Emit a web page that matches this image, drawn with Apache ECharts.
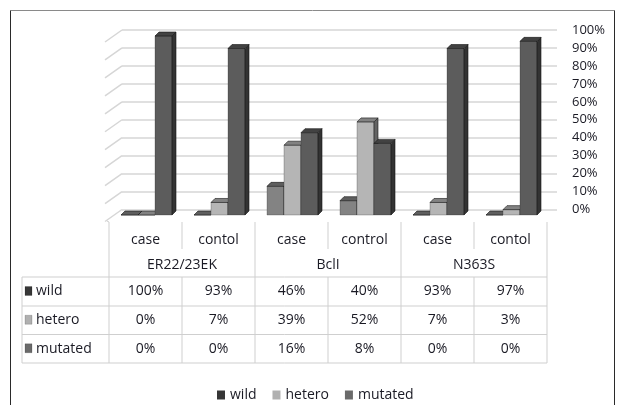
<!DOCTYPE html>
<html>
<head>
<meta charset="utf-8">
<script src="https://cdn.jsdelivr.net/npm/echarts@6/dist/echarts.min.js"></script>
<style>
  html, body { margin: 0; padding: 0; background: #fff; }
  #chart { width: 620px; height: 405px; }
</style>
</head>
<body>
<div id="chart"></div>
<script>
// Genotype distribution per polymorphism (case vs control)
const subLabels   = ['case', 'contol', 'case', 'control', 'case', 'contol'];
const groupLabels = ['ER22/23EK', 'BclI', 'N363S'];
const wild    = [100, 93, 46, 40, 93, 97];
const hetero  = [0, 7, 39, 52, 7, 3];
const mutated = [0, 0, 16, 8, 0, 0];
const yTickLabels = ['0%', '10%', '20%', '30%', '40%', '50%', '60%', '70%', '80%', '90%', '100%'];

const FONT = '"Open Sans", "Liberation Sans", Arial, sans-serif';
const TEXT = '#1a1a24';
const barColors    = { wild: '#5c5c5c', hetero: '#b5b5b5', mutated: '#838383' };
const legendColors = { wild: '#363636', hetero: '#b0b0b0', mutated: '#6a6a6a' };

// bar geometry (pseudo-3D)
const BAR_W = 17, DX = 4, DY = 4;
// wall grid and bar grid
const WALL = { left: 122, right: 63, top: 30, bottom: 195.5 };
const BARS = { left: 109, right: 73, top: 36, bottom: 190 };

function shade(hex, f) {
  const n = parseInt(hex.slice(1), 16);
  const r = Math.round(((n >> 16) & 255) * f);
  const g = Math.round(((n >> 8) & 255) * f);
  const b = Math.round((n & 255) * f);
  return 'rgb(' + r + ',' + g + ',' + b + ')';
}

function barSeries(name, values, slot) {
  const color = barColors[name];
  return {
    name: name,
    type: 'custom',
    xAxisIndex: 1,
    yAxisIndex: 1,
    clip: false,
    encode: { x: 0, y: 1 },
    data: values.map((v, i) => [i, v]),
    itemStyle: { color: legendColors[name] },
    renderItem: function (params, api) {
      const idx = api.value(0);
      const v = api.value(1);
      const top = api.coord([idx, v]);
      const base = api.coord([idx, 0]);
      const x0 = top[0] - 1.5 * BAR_W + slot * BAR_W + 1;
      const x1 = x0 + BAR_W;
      const yt = top[1], yb = base[1];
      const edge = { stroke: 'rgba(20,20,20,0.75)', lineWidth: 0.8 };
      return {
        type: 'group',
        children: [
          { type: 'rect', shape: { x: x0, y: yt, width: BAR_W, height: yb - yt },
            style: { fill: color, stroke: 'rgba(40,40,40,0.45)', lineWidth: 0.6 } },
          { type: 'polygon', shape: { points: [[x1, yt], [x1 + DX, yt - DY], [x1 + DX, yb - DY], [x1, yb]] },
            style: Object.assign({ fill: shade(color, 0.55) }, edge) },
          { type: 'polygon', shape: { points: [[x0, yt], [x0 + DX, yt - DY], [x1 + DX, yt - DY], [x1, yt]] },
            style: Object.assign({ fill: shade(color, 0.72) }, edge) }
        ]
      };
    }
  };
}

const chart = echarts.init(document.getElementById('chart'), null, { renderer: 'canvas' });

chart.setOption({
  animation: false,
  backgroundColor: '#ffffff',
  textStyle: { fontFamily: FONT },
  grid: [
    Object.assign({}, WALL),
    Object.assign({}, BARS)
  ],
  xAxis: [
    { type: 'category', gridIndex: 0, data: subLabels, show: false },
    { type: 'category', gridIndex: 1, data: subLabels, show: false }
  ],
  yAxis: [
    {
      type: 'value', gridIndex: 0, position: 'right', min: 0, max: 100, interval: 10,
      axisLine: { show: false }, axisTick: { show: false },
      axisLabel: {
        margin: 15, align: 'left', fontSize: 13, color: TEXT, fontFamily: FONT,
        formatter: v => yTickLabels[Math.round(v / 10)]
      },
      splitLine: { show: true, lineStyle: { color: '#d6d6d6', width: 1.5 } }
    },
    { type: 'value', gridIndex: 1, min: 0, max: 100, show: false, splitLine: { show: false } }
  ],
  legend: {
    left: 212, top: 383,
    itemWidth: 8, itemHeight: 9, itemGap: 16,
    icon: 'rect',
    selectedMode: false,
    textStyle: { fontSize: 14, color: TEXT, fontFamily: FONT },
    data: [
      { name: 'wild', itemStyle: { color: legendColors.wild } },
      { name: 'hetero', itemStyle: { color: legendColors.hetero } },
      { name: 'mutated', itemStyle: { color: legendColors.mutated } }
    ]
  },
  series: [
    barSeries('mutated', mutated, 0),
    barSeries('hetero', hetero, 1),
    barSeries('wild', wild, 2)
  ]
});

// side wall, frame and data table
function buildGraphics() {
  const g = [];
  const line = (x1, y1, x2, y2, color, w) => g.push({
    type: 'line', silent: true,
    shape: { x1: x1, y1: y1, x2: x2, y2: y2 },
    style: { stroke: color, lineWidth: w || 1 }
  });
  const text = (str, x, y, align, size) => g.push({
    type: 'text', silent: true, x: x, y: y,
    style: { text: str, font: (size || 14) + 'px ' + FONT, fill: TEXT,
             textAlign: align || 'center', textVerticalAlign: 'middle' }
  });

  // outer frame
  line(10.5, 10.5, 614.5, 10.5, '#8a8a8a', 1);
  line(10.5, 10.5, 10.5, 405, '#2a2a2a', 1);
  line(614.5, 10.5, 614.5, 405, '#2a2a2a', 1);

  // left side wall: perspective segments per tick
  for (let t = 0; t <= 100; t += 10) {
    const y = chart.convertToPixel({ yAxisIndex: 0 }, t);
    line(WALL.left, y, WALL.left - 17, y + 12, '#d6d6d6', 1.5);
  }

  // table column edges from the bar category axis
  const n = subLabels.length;
  const c0 = chart.convertToPixel({ xAxisIndex: 1 }, 0);
  const c1 = chart.convertToPixel({ xAxisIndex: 1 }, 1);
  const band = c1 - c0;
  const edges = [];
  for (let i = 0; i <= n; i++) edges.push(c0 - band / 2 + i * band);

  const TOP = 222, HEAD_DIV = 249, ROWS = [277, 306, 334.5, 363];
  const TL = '#cfcfcf';
  const rowLeft = 22;

  // header verticals
  for (let i = 0; i <= n; i++) {
    const full = i % 2 === 0;
    if (full) line(edges[i], TOP, edges[i], ROWS[3], TL);
    else line(edges[i], TOP, edges[i], HEAD_DIV, TL);
  }
  // floor corner
  line(edges[0], TOP, WALL.left - 17 + 2, TOP - 1, TL);
  // data row lines
  ROWS.forEach(y => line(rowLeft, y, edges[n], y, TL));
  line(rowLeft, ROWS[0], rowLeft, ROWS[3], TL);
  for (let i = 1; i < n; i += 2) line(edges[i], ROWS[0], edges[i], ROWS[3], TL);

  // header labels
  subLabels.forEach((s, i) => text(s, (edges[i] + edges[i + 1]) / 2, 240));
  groupLabels.forEach((s, k) => text(s, edges[2 * k + 1], 265));

  // data rows
  const rows = [
    { name: 'wild', values: wild },
    { name: 'hetero', values: hetero },
    { name: 'mutated', values: mutated }
  ];
  rows.forEach((r, k) => {
    const yc = (ROWS[k] + ROWS[k + 1]) / 2;
    g.push({ type: 'rect', silent: true,
      shape: { x: 25, y: yc - 5, width: 7, height: 9 },
      style: { fill: legendColors[r.name], stroke: 'rgba(0,0,0,0.3)', lineWidth: 0.5 } });
    text(r.name, 36, yc, 'left');
    r.values.forEach((v, i) => text(v + '%', (edges[i] + edges[i + 1]) / 2, yc));
  });
  return g;
}

chart.setOption({ graphic: buildGraphics() });
</script>
</body>
</html>
